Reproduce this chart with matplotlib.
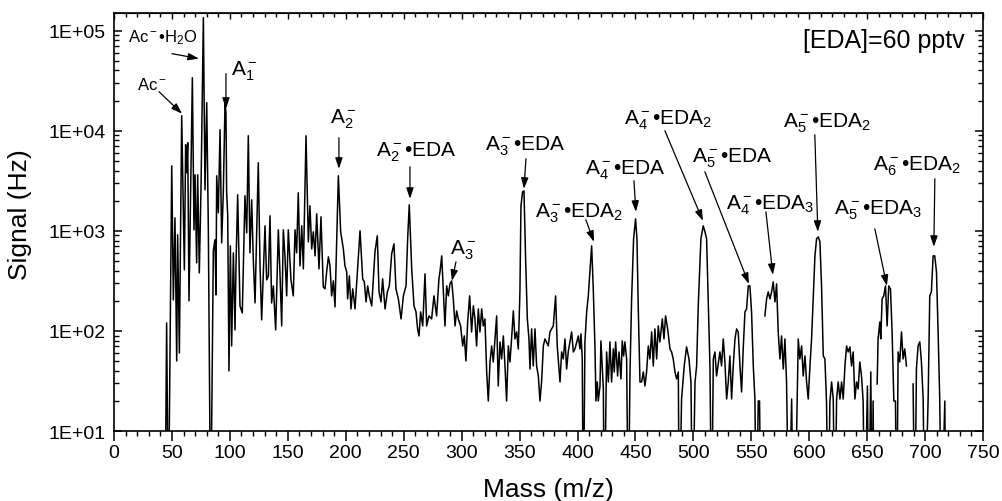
import numpy as np
import matplotlib
matplotlib.use('Agg')
import matplotlib.pyplot as plt
from matplotlib.ticker import MultipleLocator, LogLocator, NullFormatter, FuncFormatter

plt.rcParams['font.family'] = ['Liberation Sans', 'DejaVu Sans']
plt.rcParams['mathtext.fontset'] = 'custom'
plt.rcParams['mathtext.rm'] = 'Liberation Sans'
plt.rcParams['mathtext.it'] = 'Liberation Sans:italic'
plt.rcParams['mathtext.bf'] = 'Liberation Sans:bold'

nan = np.nan

# spectrum: mass (m/z) and log10 of signal (Hz)
# 0 = below the axis (drawn down to the bottom), nan = no counts (gap)
mass1 = [44.0, 45.4, 46.9, 49.8, 51.2, 52.6, 54.1, 54.9, 56.4, 58.4,
         60.7, 61.8, 62.7, 63.6, 64.7, 67.6, 69.0, 69.9, 71.3, 72.2,
         73.6, 75.1, 77.1, 78.5, 80.0, 81.4, 83.4, 85.7, 87.1, 88.0,
         88.6, 90.0, 91.5, 92.9, 94.3, 95.8, 96.6, 97.2, 98.1, 99.2,
         100.4, 101.5, 103.0, 104.4, 105.3, 106.7, 108.7, 110.7, 113.0, 114.5,
         115.9, 117.3, 118.8, 120.2, 121.7, 124.5, 126.0, 127.4, 130.3, 131.7,
         133.2, 134.6, 136.0, 137.5, 139.5, 141.8, 143.2, 144.7, 146.1, 147.5,
         149.0, 150.4, 152.7, 154.7, 156.2, 157.6, 159.0]
log1 = [0, 2.08, 0, 3.65, 2.31, 3.13, 1.70, 2.96, 1.78, 4.15,
        2.61, 3.86, 3.58, 3.88, 2.30, 4.53, 3.01, 3.56, 2.68, 3.56,
        2.58, 3.45, 5.13, 3.41, 4.28, 3.01, 0, 2.80, 2.91, 2.36,
        3.55, 3.18, 4.01, 2.88, 3.38, 4.28, 4.18, 3.38, 3.16, 1.60,
        2.85, 1.85, 2.78, 2.01, 2.68, 3.36, 2.25, 2.18, 3.35, 2.98,
        3.95, 2.78, 3.31, 2.71, 2.28, 3.68, 2.65, 2.11, 3.05, 2.51,
        2.55, 3.15, 2.28, 2.45, 2.01, 3.01, 2.58, 2.05, 3.01, 2.75,
        2.35, 3.01, 2.51, 2.35, 3.01, 2.78, 3.38]

mass2 = [160.5, 162.0, 163.4, 165.7, 167.7, 169.1, 170.6, 172.0, 173.5, 174.9,
         176.9, 178.6, 180.6, 182.1, 183.5, 185.0, 186.4, 187.8, 189.3, 190.7,
         192.2, 193.6, 195.6, 197.9, 199.3, 200.8, 201.6, 203.1, 204.5, 206.0,
         208.0, 210.3, 212.3, 214.6, 216.0, 217.5, 218.9, 220.3, 222.4, 225.2,
         227.2, 228.7, 230.4, 231.8, 233.9, 235.9, 237.6, 239.6, 241.6, 243.3,
         245.4, 247.7, 249.7, 252.0, 253.4, 254.8, 256.9, 258.9, 260.6, 262.0,
         263.2, 264.6, 266.4, 268.4, 269.8, 271.8, 274.1, 276.1, 278.4, 280.4]
log2 = [2.65, 3.05, 2.62, 3.95, 2.89, 3.25, 2.82, 2.99, 2.75, 3.17,
        2.62, 3.14, 2.44, 2.42, 2.59, 2.74, 2.65, 2.35, 2.50, 2.24,
        2.92, 3.55, 2.99, 2.82, 2.65, 2.59, 2.32, 2.55, 2.22, 2.42,
        2.22, 2.64, 3.00, 2.52, 2.49, 2.29, 2.45, 2.35, 2.25, 2.79,
        2.95, 2.39, 2.29, 2.52, 2.22, 2.39, 2.45, 2.77, 2.87, 2.42,
        2.32, 2.12, 2.35, 2.45, 2.92, 3.26, 2.62, 2.25, 2.19, 2.02,
        1.95, 2.19, 2.05, 2.57, 2.05, 2.15, 2.12, 2.35, 2.15, 2.52]

mass3 = [281.3, 282.8, 284.2, 285.6, 287.1, 288.5, 289.9, 291.4, 292.8, 294.3,
         295.7, 297.1, 299.1, 300.9, 302.3, 303.7, 305.2, 306.9, 308.6, 310.1,
         311.5, 312.9, 314.4, 315.8, 317.3, 318.7, 320.1, 321.6, 323.0, 324.5,
         325.9, 327.3, 328.8, 330.2, 331.6, 333.1, 334.5, 336.0, 337.4, 338.8,
         340.3, 341.7, 343.1, 344.6, 346.0, 347.5, 348.9, 350.3, 351.2, 352.6,
         353.8, 355.2, 356.7, 358.1, 359.0, 360.4, 361.8, 363.3, 364.7, 366.2,
         367.6, 369.0, 370.5, 371.9, 374.8, 376.2, 379.1, 381.1, 382.5, 384.9,
         386.3, 387.7, 389.2, 390.6, 392.0, 394.9, 396.4, 397.8, 400.7]
log3 = [2.59, 2.75, 2.39, 2.05, 2.45, 2.35, 2.47, 2.50, 2.32, 2.05,
        2.20, 2.12, 2.05, 1.85, 1.95, 1.70, 2.09, 2.35, 1.99, 2.25,
        2.12, 1.85, 2.22, 1.99, 2.22, 2.05, 2.12, 1.59, 1.30, 1.69,
        1.85, 1.69, 1.92, 2.15, 1.45, 1.89, 1.72, 1.95, 1.65, 1.30,
        1.85, 1.69, 1.92, 2.20, 1.92, 1.99, 1.82, 2.39, 3.25, 3.39,
        3.40, 2.72, 2.12, 1.92, 1.62, 2.02, 1.65, 2.02, 1.65, 1.55,
        1.30, 1.49, 1.85, 1.92, 1.85, 1.99, 2.05, 2.35, 1.85, 1.49,
        1.79, 1.72, 1.92, 1.62, 1.79, 1.99, 1.79, 1.82, 1.95]

mass4 = [402.1, 403.0, 404.1, 405.0, 406.4, 407.9, 409.3, 410.7, 412.2, 413.6,
         415.1, 415.9, 417.1, 417.9, 419.4, 420.2, 422.3, 423.1, 425.1, 426.6,
         428.0, 429.4, 430.9, 431.7, 432.9, 434.6, 435.8, 437.5, 438.6, 439.8,
         440.9, 442.4, 443.8, 445.3, 446.7, 448.4, 450.1, 451.3, 452.4, 453.9,
         455.3, 456.8, 458.2, 459.6, 461.1, 462.5, 464.0, 465.4, 466.8, 468.3,
         469.7, 471.1, 473.2, 474.6, 476.0, 477.8, 479.8, 481.2, 482.6, 484.1,
         485.5, 487.0, 487.8, 489.8, 492.1, 494.1, 496.2, 497.9, 499.3, 501.4,
         502.8, 504.2, 506.5, 508.5, 510.0, 511.4, 512.8, 514.3, 515.7, 517.2,
         518.6, 520.0]
log4 = [1.82, 1.97, 1.72, 0, 1.89, 2.19, 2.35, 2.59, 2.85, 2.42,
        1.82, 1.30, 1.49, 1.30, 1.45, 1.90, 1.42, 0, 1.79, 1.49,
        1.89, 1.49, 1.82, 1.59, 1.89, 1.55, 1.79, 1.52, 1.90, 1.75,
        1.89, 1.72, 0, 1.59, 2.32, 2.92, 3.12, 2.92, 2.25, 1.49,
        1.49, 1.59, 1.45, 1.59, 1.85, 1.72, 1.99, 1.65, 2.02, 1.72,
        2.05, 1.89, 2.12, 1.92, 2.15, 2.02, 1.82, 1.79, 1.72, 1.59,
        1.52, 1.59, 0, 1.32, 1.65, 1.84, 1.72, 1.49, 0, 1.49,
        1.65, 2.25, 2.92, 3.05, 2.99, 2.92, 2.32, 1.65, 0, 1.72,
        1.79, 1.55]

mass5 = [522.9, 524.3, 525.8, 527.2, 528.7, 530.1, 531.5, 533.0, 534.4, 535.9,
         537.3, 538.7, 540.2, 541.6, 543.0, 544.5, 545.9, 547.4, 548.8, 550.2,
         551.7, 553.1, 554.3, 556.0, 557.1, 558.3, 560.0, 561.7, 563.2, 564.6,
         566.1, 567.5, 568.9, 570.4, 571.8, 573.2, 574.7, 576.1, 577.6, 579.0,
         580.4, 582.4, 584.8, 586.2, 587.6, 590.5, 591.9, 593.4, 594.8, 596.3,
         597.7, 599.1, 600.6, 602.0, 603.4, 604.9, 606.3, 607.8, 609.2, 610.6,
         612.1, 613.5, 614.9, 616.4, 617.8, 619.3, 620.7, 622.1, 623.6, 625.0,
         626.5, 627.9, 629.3, 630.8, 632.2, 633.6, 635.1, 636.5, 637.9, 639.4]
log5 = [1.79, 1.65, 1.92, 1.69, 1.32, 1.49, 1.75, 1.32, 1.65, 1.92,
        2.02, 1.99, 1.65, 1.39, 1.82, 2.19, 2.22, 2.45, 2.45, 2.19,
        1.65, 1.32, 0, 1.30, 1.30, 0, nan, 2.15, 2.32, 2.39,
        2.32, 2.39, 2.49, 2.29, 2.47, 1.99, 1.72, 1.95, 1.62, 1.92,
        1.49, 0, 1.32, 0, 0, 1.92, 1.72, 1.85, 1.55, 1.75,
        1.49, 1.32, 1.65, 1.92, 2.32, 2.75, 2.92, 2.94, 2.89, 2.45,
        1.75, 1.72, 1.29, 0, 1.29, 1.49, 1.32, 0, 1.32, 1.49,
        1.32, 1.49, 1.32, 1.65, 1.85, 1.79, 1.84, 1.65, 1.79, 1.32]

mass6 = [640.8, 642.2, 643.6, 645.1, 646.5, 647.9, 650.2, 651.4, 653.1, 654.3,
         655.1, 656.0, 657.5, 658.6, 659.4, 660.9, 661.7, 662.9, 664.3, 665.8,
         667.2, 668.6, 670.1, 671.5, 673.0, 674.4, 675.5, 676.7, 678.1, 679.6,
         681.0, 682.4, 683.9, 686.0, 689.6, 691.1, 692.5, 693.9, 695.4, 696.8,
         698.3, 699.7, 702.6, 704.0, 705.4, 706.9, 708.3, 709.8, 711.2, 712.6,
         714.1, 717.0, 717.8]
log6 = [1.49, 1.42, 1.69, 1.55, 1.30, 0, 1.45, 0, 1.59, 0,
        1.30, 0, nan, 1.47, 1.92, 2.09, 1.92, 2.32, 2.35, 2.45,
        2.05, 2.45, 2.42, 1.99, 1.30, 1.30, 0, 1.79, 1.69, 1.99,
        1.72, 1.82, 1.65, nan, 1.47, 0, 1.62, 1.85, 1.89, 1.69,
        1.32, 0, 1.32, 2.35, 2.39, 2.75, 2.75, 2.59, 1.99, 1.32,
        0, 1.30, 0]

mass = np.concatenate([mass1, mass2, mass3, mass4, mass5, mass6])
signal = 10.0 ** np.concatenate([log1, log2, log3, log4, log5, log6])

# peak labels: text, text position (m/z, log10), arrow start, arrow tip, size
labels = [
    ('Ac$^-$•H$_2$O', (12.1, 4.94), (50.0, 4.77), (73.3, 4.72), 12, 'left'),
    ('Ac$^-$',        (32.8, 4.47), (38.8, 4.39), (58.7, 4.17), 12, 'center'),
    ('A$_1^-$',       (112.2, 4.60), (96.6, 4.57), (96.6, 4.22), 15, 'center'),
    ('A$_2^-$',       (197.6, 4.12), (194.1, 3.93), (194.1, 3.62), 15, 'center'),
    ('A$_2^-$•EDA',   (260.6, 3.79), (255.4, 3.64), (255.4, 3.32), 15, 'center'),
    ('A$_3^-$',       (301.1, 2.82), (295.1, 2.69), (291.6, 2.50), 15, 'center'),
    ('A$_3^-$•EDA',   (354.6, 3.85), (355.5, 3.72), (353.8, 3.42), 15, 'center'),
    ('A$_3^-$•EDA$_2$', (401.2, 3.19), (407.2, 3.11), (414.2, 2.89), 15, 'center'),
    ('A$_4^-$•EDA',   (440.9, 3.62), (448.7, 3.50), (450.4, 3.19), 15, 'center'),
    ('A$_4^-$•EDA$_2$', (478.0, 4.11), (475.4, 4.00), (508.2, 3.10), 15, 'center'),
    ('A$_5^-$•EDA',   (533.2, 3.74), (509.9, 3.59), (547.9, 2.47), 15, 'center'),
    ('A$_4^-$•EDA$_3$', (566.0, 3.27), (562.6, 3.19), (568.6, 2.56), 15, 'center'),
    ('A$_5^-$•EDA$_2$', (615.2, 4.08), (604.8, 3.96), (607.4, 2.99), 15, 'center'),
    ('A$_5^-$•EDA$_3$', (659.2, 3.22), (656.6, 3.02), (667.0, 2.45), 15, 'center'),
    ('A$_6^-$•EDA$_2$', (692.8, 3.66), (708.4, 3.52), (707.5, 2.84), 15, 'center'),
]

fig = plt.figure(figsize=(10.02, 5.02), dpi=100)
ax = fig.add_axes([0.1138, 0.1394, 0.8673, 0.8327])

ax.plot(mass, signal, color='black', lw=1.1)

ax.set_yscale('log')
ax.set_xlim(0, 750)
ax.set_ylim(10, 1.5e5)

ax.xaxis.set_major_locator(MultipleLocator(50))
ax.xaxis.set_minor_locator(MultipleLocator(10))
ax.yaxis.set_major_locator(LogLocator(base=10))
ax.yaxis.set_minor_locator(LogLocator(base=10, subs=range(2, 10)))
ax.yaxis.set_minor_formatter(NullFormatter())
ax.yaxis.set_major_formatter(FuncFormatter(lambda v, p: '1E+%02d' % round(np.log10(v))))

ax.tick_params(axis='x', which='major', direction='out', length=7, width=1.1, labelsize=14, pad=2)
ax.tick_params(axis='x', which='minor', direction='out', length=3.5, width=1.0)
ax.tick_params(axis='y', which='major', direction='in', length=6, width=1.1, labelsize=14,
               right=True, pad=6)
ax.tick_params(axis='y', which='minor', direction='in', length=3.5, width=1.0, right=True)

top = ax.secondary_xaxis('top')
top.xaxis.set_major_locator(MultipleLocator(50))
top.xaxis.set_minor_locator(MultipleLocator(10))
top.xaxis.set_major_formatter(NullFormatter())
top.tick_params(which='major', direction='in', length=4, width=1.0)
top.tick_params(which='minor', direction='in', length=3, width=1.0)

for s in ax.spines.values():
    s.set_linewidth(1.2)

ax.set_xlabel('Mass (m/z)', fontsize=19)
ax.set_ylabel('Signal (Hz)', fontsize=19)
ax.xaxis.set_label_coords(0.5, -0.11)
ax.yaxis.set_label_coords(-0.094, 0.52)

for txt, tpos, start, tip, size, ha in labels:
    ax.text(tpos[0], 10 ** tpos[1], txt, fontsize=size, ha=ha, va='center')
    ax.annotate('', xy=(tip[0], 10 ** tip[1]), xytext=(start[0], 10 ** start[1]),
                arrowprops=dict(arrowstyle='-|>,head_length=0.65,head_width=0.22',
                                color='black', lw=0.9, shrinkA=0, shrinkB=0))

ax.text(0.979, 0.935, '[EDA]=60 pptv', transform=ax.transAxes, fontsize=18,
        ha='right', va='center')

fig.savefig('out.png', dpi=100)
